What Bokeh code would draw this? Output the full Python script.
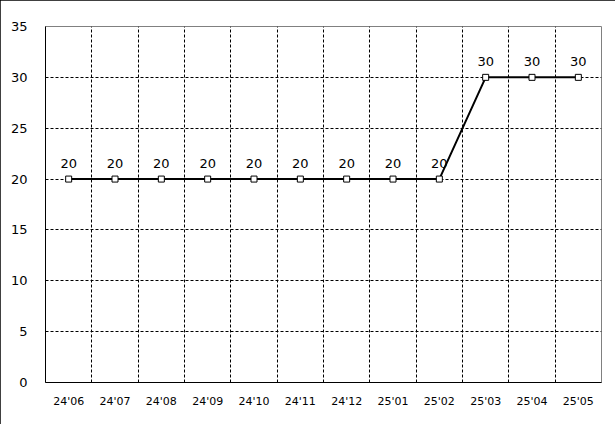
from bokeh.plotting import figure
from bokeh.models import ColumnDataSource, FixedTicker, Range1d, Grid, LabelSet
from bokeh.core.properties import value
from bokeh.embed import file_html
from bokeh.resources import INLINE

months = ["24'06", "24'07", "24'08", "24'09", "24'10", "24'11", "24'12",
          "25'01", "25'02", "25'03", "25'04", "25'05"]
values = [20, 20, 20, 20, 20, 20, 20, 20, 20, 30, 30, 30]
y_ticks = [0, 5, 10, 15, 20, 25, 30, 35]

xs = list(range(len(months)))
src = ColumnDataSource(dict(x=xs, y=values, lbl=[str(v) for v in values]))

p = figure(width=615, height=424, output_backend="svg", toolbar_location=None,
           x_range=Range1d(-0.5, len(months) - 0.5), y_range=Range1d(0, 35),
           min_border_left=45, min_border_right=14, min_border_top=26, min_border_bottom=42)
p.styles = {"outline": "1px solid black", "outline-offset": "-1px"}

p.outline_line_color = "#808080"
p.outline_line_width = 1
p.border_fill_color = "white"
p.background_fill_color = "white"

FONT = "DejaVu Sans"

# axes
p.xaxis.ticker = FixedTicker(ticks=xs)
p.xaxis.major_label_overrides = {i: m for i, m in enumerate(months)}
p.yaxis.ticker = FixedTicker(ticks=y_ticks)
for ax in (p.xaxis[0], p.yaxis[0]):
    ax.axis_line_color = "black"
    ax.axis_line_width = 1
    ax.major_tick_line_color = None
    ax.minor_tick_line_color = None
    ax.major_label_text_font = FONT
    ax.major_label_text_color = "black"
p.xaxis.major_label_text_font_size = "11px"
p.yaxis.major_label_text_font_size = "13px"
p.xaxis.major_label_standoff = 6
p.yaxis.major_label_standoff = 12

# grid
p.xgrid.grid_line_color = None
p.ygrid.ticker = FixedTicker(ticks=[5, 10, 15, 20, 25, 30])
p.ygrid.grid_line_color = "black"
p.ygrid.grid_line_dash = "3 2"
p.ygrid.grid_line_width = 1
vgrid = Grid(dimension=0, ticker=FixedTicker(ticks=[i + 0.5 for i in xs[:-1]]),
             grid_line_color="black", grid_line_dash="3 2", grid_line_width=1)
p.add_layout(vgrid)

p.line("x", "y", source=src, line_color="black", line_width=2)
p.scatter("x", "y", source=src, marker="square", size=6, fill_color="white",
          line_color="black", line_width=1)

labels = LabelSet(x="x", y="y", text="lbl", source=src, y_offset=11,
                  text_align="center", text_baseline="bottom",
                  text_font=value(FONT), text_font_size=value("13px"),
                  text_color="black")
p.add_layout(labels)

open("out.html", "w").write(file_html(p, INLINE))
